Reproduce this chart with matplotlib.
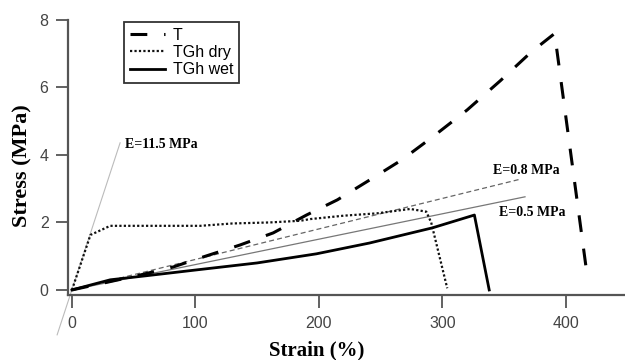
import matplotlib
matplotlib.use("Agg")
import matplotlib.pyplot as plt

# ---- data ----
t_strain = [0, 30, 55, 82, 104, 136, 163, 190, 215, 243, 267, 292, 320, 347, 372, 391, 418]
t_stress = [0, 0.24, 0.44, 0.68, 0.95, 1.33, 1.69, 2.22, 2.67, 3.3, 3.85, 4.53, 5.33, 6.2, 7.05, 7.6, 0.25]

dry_strain = [0, 15, 31, 60, 104, 130, 160, 185, 193, 220, 247, 274, 287, 291, 304]
dry_stress = [0, 1.63, 1.9, 1.9, 1.9, 1.97, 2.0, 2.05, 2.1, 2.2, 2.27, 2.4, 2.32, 2.0, 0.05]

wet_strain = [0, 31, 60, 100, 150, 198, 241, 292, 326, 338]
wet_stress = [0, 0.3, 0.42, 0.59, 0.8, 1.07, 1.39, 1.84, 2.22, 0.0]

e115_x = [-12, 39]
e115_y = [-1.33, 4.36]
e08_x = [0, 364]
e08_y = [0, 3.29]
e05_x = [0, 367]
e05_y = [0, 2.76]

x_ticks = [0, 100, 200, 300, 400]
y_ticks = [0, 2, 4, 6, 8]

# ---- figure ----
fig = plt.figure(figsize=(6.25, 3.6), dpi=100)
ax = fig.add_axes([68/625, 1-295/360, 1-68/625, (295-20)/360])
ax.set_xlim(-3.2, 448)
ax.set_ylim(-0.15, 8)

gray_dark = "#555555"
ax.plot(e115_x, e115_y, color="#bbbbbb", lw=0.8, clip_on=False, zorder=1)
ax.plot(e08_x, e08_y, color="#666666", lw=0.9, dashes=(4, 2.5), zorder=1)
ax.plot(e05_x, e05_y, color="#777777", lw=0.9, zorder=1)

ax.plot(t_strain, t_stress, color="black", lw=2.2, dashes=(5.5, 5.5), label="T", zorder=3)
ax.plot(dry_strain, dry_stress, color="#111111", lw=1.6, dashes=(1, 1), label="TGh dry", zorder=3)
ax.plot(wet_strain, wet_stress, color="black", lw=2.0, label="TGh wet", zorder=3)

serif = "Liberation Serif"
ax.text(43, 4.3, "E=11.5 MPa", family=serif, weight="bold", fontsize=10, va="center")
ax.text(341, 3.55, "E=0.8 MPa", family=serif, weight="bold", fontsize=10, va="center")
ax.text(346, 2.3, "E=0.5 MPa", family=serif, weight="bold", fontsize=10, va="center")

for s in ["top", "right"]:
    ax.spines[s].set_visible(False)
for s in ["left", "bottom"]:
    ax.spines[s].set_color(gray_dark)
    ax.spines[s].set_linewidth(1.6)

ax.set_xticks(x_ticks)
ax.set_yticks(y_ticks)
ax.tick_params(axis="both", direction="out", length=9, width=1.3, color=gray_dark,
               labelcolor="#444444", labelsize=11.5)
ax.tick_params(axis="x", pad=6)
ax.tick_params(axis="y", pad=5)
for lab in ax.get_xticklabels() + ax.get_yticklabels():
    lab.set_family("Liberation Sans")

fig.text(317/625, 1-350/360, "Strain (%)", family=serif, weight="bold", fontsize=15,
         ha="center", va="center")
fig.text(22/625, 1-166/360, "Stress (MPa)", family=serif, weight="bold", fontsize=16,
         ha="center", va="center", rotation=90)

leg = ax.legend(loc="upper left", bbox_to_anchor=((124-68)/557, (295-22)/275), frameon=True,
                fancybox=False, prop={"family": "Liberation Sans", "size": 11.5},
                handlelength=2.2, handletextpad=0.5, labelspacing=0.15, borderpad=0.35,
                borderaxespad=0)
leg.get_frame().set_edgecolor("black")
leg.get_frame().set_linewidth(1.3)

fig.savefig("out.png", dpi=100)
